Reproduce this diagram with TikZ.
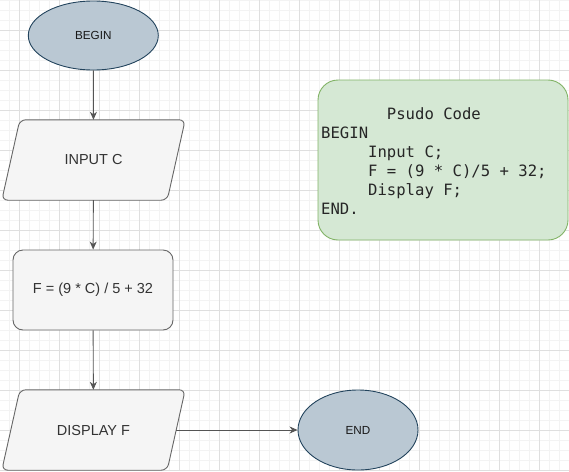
\documentclass[tikz,border=0pt]{standalone}
\usepackage{fontspec}
\setmainfont{Liberation Sans}
\newfontfamily\codefont{DejaVu Sans Mono}
\usetikzlibrary{arrows.meta,backgrounds,shapes.geometric}
\definecolor{gmajor}{HTML}{DFDFDF}
\definecolor{gminor}{HTML}{F3F3F3}
\definecolor{termfill}{HTML}{BAC8D3}
\definecolor{termdraw}{HTML}{23445D}
\definecolor{boxfill}{HTML}{F5F5F5}
\definecolor{boxdraw}{HTML}{666666}
\definecolor{boxtext}{HTML}{333333}
\definecolor{codefill}{HTML}{D5E8D4}
\definecolor{codedraw}{HTML}{82B366}
\definecolor{linkcol}{HTML}{555555}
\tikzset{
  term/.style={ellipse, draw=termdraw, fill=termfill, line width=0.9pt,
    inner sep=0pt, font=\fontsize{11.7}{14}\selectfont, text=black!90},
  iobox/.style={rectangle, draw=none, minimum width=165pt, minimum height=80pt,
    inner sep=0pt, font=\fontsize{14.5}{17}\selectfont, text=boxtext},
  iopath/.style={draw=boxdraw, fill=boxfill, line width=0.9pt, rounded corners=6pt},
  procbox/.style={rectangle, draw=boxdraw, fill=boxfill, line width=0.9pt,
    rounded corners=10pt, minimum width=160pt, minimum height=80pt, inner sep=0pt,
    font=\fontsize{14.5}{17}\selectfont, text=boxtext},
  codebox/.style={rectangle, draw=codedraw, fill=codefill, line width=0.9pt,
    rounded corners=20pt, minimum width=250pt, minimum height=160pt},
  codetext/.style={inner sep=0pt, align=left, text=black!85,
    font=\codefont\fontsize{15.6}{19}\selectfont},
  conn/.style={draw=linkcol, line width=0.9pt,
    -{Stealth[length=8pt,width=7pt,inset=2.5pt]}},
}
\begin{document}
\begin{tikzpicture}[x=1pt,y=-1pt]
\useasboundingbox (0,0) rectangle (569,471);
\begin{scope}[on background layer]
  \fill[white] (0,0) rectangle (569,471);
  \foreach \x in {9,19,...,569} \draw[gminor,line width=0.8pt] (\x,0) -- (\x,471);
  \foreach \y in {0,10,...,470} \draw[gminor,line width=0.8pt] (0,\y) -- (569,\y);
  \foreach \x in {19,59,...,569} \draw[gmajor,line width=0.8pt] (\x,0) -- (\x,471);
  \foreach \y in {30,70,...,470} \draw[gmajor,line width=0.8pt] (0,\y) -- (569,\y);
\end{scope}

\node[term, minimum width=130pt, minimum height=69pt] (begin) at (93.3,35.5) {BEGIN};
\node[iobox] (inC) at (93.5,160) {INPUT C};
\node[procbox] (calc) at (93,290) {F = (9 * C) / 5 + 32};
\node[iobox] (disp) at (93.5,430) {DISPLAY F};
\node[term, minimum width=120pt, minimum height=80pt] (endn) at (358,430) {END};

\begin{scope}[on background layer]
  \path[iopath] ([xshift=9pt]inC.north west) -- ([xshift=9pt]inC.north east)
     -- ([xshift=-9pt]inC.south east) -- ([xshift=-9pt]inC.south west) -- cycle;
  \path[iopath] ([xshift=9pt]disp.north west) -- ([xshift=9pt]disp.north east)
     -- ([xshift=-9pt]disp.south east) -- ([xshift=-9pt]disp.south west) -- cycle;
\end{scope}

\node[codebox] (pc) at (443,160) {};
\node[codetext, anchor=north west] (pct) at (321,107.5) {%
\hphantom{0000000}Psudo Code\\
BEGIN\\
\hphantom{00000}Input C;\\
\hphantom{00000}F = (9 * C)/5 + 32;\\
\hphantom{00000}Display F;\\
END.};

\draw[conn] (begin) -- (inC);
\draw[conn] (inC) -- (calc);
\draw[conn] (calc) -- (disp);
\draw[conn] (disp) -- (endn);
\end{tikzpicture}
\end{document}
